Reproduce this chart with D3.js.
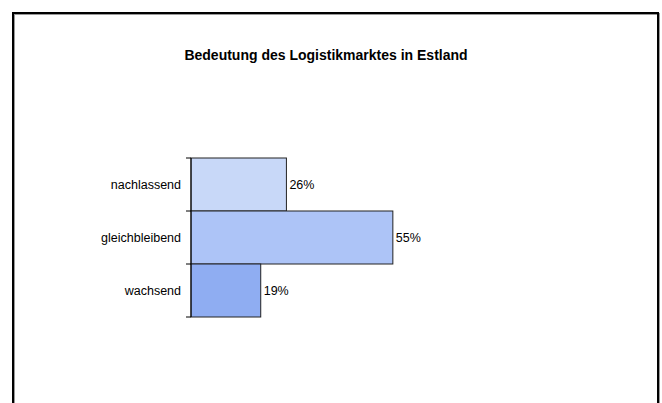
<!DOCTYPE html>
<html>
<head>
<meta charset="utf-8">
<script src="https://cdn.jsdelivr.net/npm/d3@7"></script>
<style>
  body { margin: 0; background: #fff; }
  text { font-family: "Liberation Sans", Arial, sans-serif; }
</style>
</head>
<body>
<div id="chart-area"></div>
<script>
// data
var categories = ["nachlassend", "gleichbleibend", "wachsend"];
var values = [26, 55, 19];
var labels = ["26%", "55%", "19%"];
var colors = ["#c8d8f8", "#adc4f7", "#8fadf2"];

var svg = d3.select("#chart-area")
    .append("svg")
        .attr("width", 662)
        .attr("height", 403);

// frame with shadow
svg.append("path")
    .attr("d", "M14,403 L14,14 L659,14 L659,403")
    .attr("fill", "none")
    .attr("stroke", "#999")
    .attr("stroke-width", 2);
svg.append("path")
    .attr("d", "M13,403 L13,13 L658,13 L658,403")
    .attr("fill", "none")
    .attr("stroke", "#000")
    .attr("stroke-width", 2);

// title
svg.append("text")
    .attr("x", 326)
    .attr("y", 60)
    .attr("text-anchor", "middle")
    .attr("font-size", "14px")
    .attr("font-weight", "bold")
    .text("Bedeutung des Logistikmarktes in Estland");

var margin = { left: 191, top: 158 };
var g = svg.append("g")
    .attr("transform", "translate(" + margin.left + ", " + margin.top + ")");

// scales
var x = d3.scaleLinear()
    .domain([0, 100])
    .range([0, 367]);

var y = d3.scaleBand()
    .domain(categories)
    .range([0, 159])
    .padding(0);

// bars
g.selectAll("rect")
    .data(values)
    .enter()
    .append("rect")
        .attr("x", 0)
        .attr("y", function(d, i){ return y(categories[i]); })
        .attr("width", function(d){ return x(d); })
        .attr("height", y.bandwidth())
        .attr("fill", function(d, i){ return colors[i]; })
        .attr("stroke", "#222")
        .attr("stroke-width", 1);

// value labels
g.selectAll(".val")
    .data(values)
    .enter()
    .append("text")
        .attr("class", "val")
        .attr("x", function(d){ return x(d) + 3; })
        .attr("y", function(d, i){ return y(categories[i]) + y.bandwidth() / 2 + 4.5; })
        .attr("font-size", "12.5px")
        .text(function(d, i){ return labels[i]; });

// y axis: line plus ticks between categories
var yAxis = g.append("g").attr("class", "y axis");
yAxis.append("line")
    .attr("x1", 0).attr("x2", 0)
    .attr("y1", 0).attr("y2", y.range()[1])
    .attr("stroke", "#000");
var tickPos = categories.map(function(c){ return y(c); }).concat([y.range()[1]]);
yAxis.selectAll(".tick")
    .data(tickPos)
    .enter()
    .append("line")
        .attr("x1", -5).attr("x2", 0)
        .attr("y1", function(d){ return d; })
        .attr("y2", function(d){ return d; })
        .attr("stroke", "#000");
yAxis.selectAll(".cat")
    .data(categories)
    .enter()
    .append("text")
        .attr("x", -10)
        .attr("y", function(d){ return y(d) + y.bandwidth() / 2 + 4.5; })
        .attr("text-anchor", "end")
        .attr("font-size", "12.5px")
        .text(function(d){ return d; });
</script>
</body>
</html>
